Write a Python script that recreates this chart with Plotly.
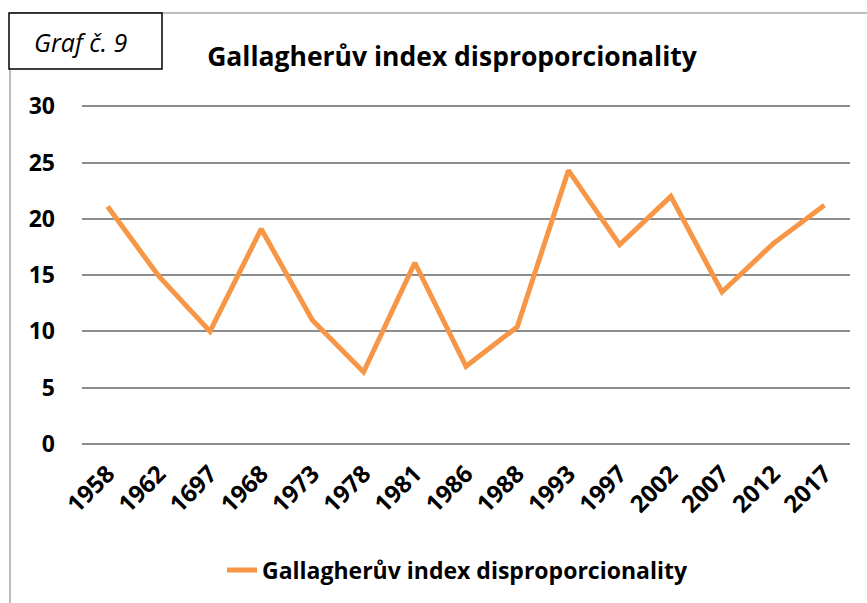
import plotly.graph_objects as go

years = ["1958", "1962", "1697", "1968", "1973", "1978", "1981", "1986",
         "1988", "1993", "1997", "2002", "2007", "2012", "2017"]
gallagher = [21.1, 14.9, 10.0, 19.1, 11.0, 6.4, 16.1, 6.9,
             10.4, 24.3, 17.7, 22.0, 13.5, 17.8, 21.2]
series_name = "Gallagherův index disproporcionality"
y_ticks = [0, 5, 10, 15, 20, 25, 30]

FONT = "Open Sans"
ORANGE = "#F79646"
GRID = "#8C8C8C"

L, T, R, B = 82, 104, 17, 159
W, H = 867, 603
PW, PH = W - L - R, H - T - B

def px(x):
    return (x - L) / PW

def py(y):
    return (H - B - y) / PH

fig = go.Figure()
fig.add_trace(go.Scatter(
    x=years, y=gallagher, mode="lines", name=series_name,
    line=dict(color=ORANGE, width=5),
))

fig.update_layout(
    width=W, height=H,
    paper_bgcolor="white", plot_bgcolor="white",
    margin=dict(l=L, r=R, t=T, b=B, autoexpand=False),
    font=dict(family=FONT, color="black"),
    title=dict(text=series_name, x=452 / W, xanchor="center",
               y=1 - 57 / H, yanchor="middle",
               font=dict(size=26.5, family=FONT, color="black", weight="bold")),
    showlegend=True,
    legend=dict(orientation="h", x=px(222), xanchor="left", y=py(570), yanchor="middle",
                font=dict(size=23, family=FONT, color="black", weight="bold"),
                bgcolor="rgba(0,0,0,0)"),
    xaxis=dict(type="category", range=[-0.5, len(years) - 0.5], showgrid=False,
               showline=False, ticks="", zeroline=False, ticklabelstandoff=10,
               tickangle=-45, tickfont=dict(size=24, family=FONT, color="black", weight="bold")),
    yaxis=dict(range=[0, 30.2], tickvals=y_ticks, showgrid=True, gridcolor=GRID, gridwidth=1.5,
               zeroline=True, zerolinecolor=GRID, zerolinewidth=1.5, showline=False,
               ticks="", ticklabelstandoff=26,
               tickfont=dict(size=23, family=FONT, color="black", weight="bold")),
)

# outer frame lines (top and left), light gray
fig.add_shape(type="line", xref="paper", yref="paper",
              x0=px(10), x1=px(W + 5), y0=py(13), y1=py(13),
              line=dict(color="#A6A6A6", width=1.5))
fig.add_shape(type="line", xref="paper", yref="paper",
              x0=px(10), x1=px(10), y0=py(13), y1=py(H + 5),
              line=dict(color="#A6A6A6", width=1.5))
# "Graf č. 9" box
fig.add_shape(type="rect", xref="paper", yref="paper",
              x0=px(9), x1=px(162), y0=py(69), y1=py(13),
              line=dict(color="black", width=1.5), fillcolor="white")
fig.add_annotation(xref="paper", yref="paper", x=px(80), y=py(42),
                   text="<i>Graf č. 9</i>", showarrow=False, xanchor="center", yanchor="middle",
                   font=dict(size=25, family=FONT, color="black"))

fig.write_html("out.html", config={"displayModeBar": False},
               post_script="document.body.style.margin='0';")
